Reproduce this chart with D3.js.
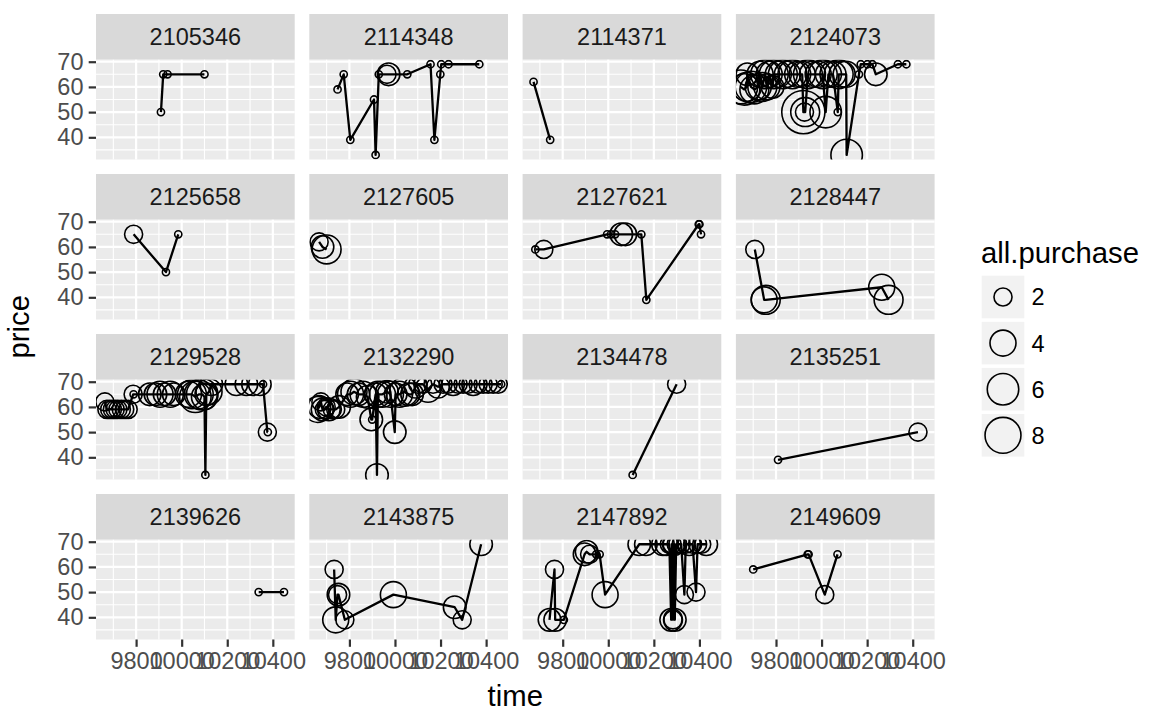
<!DOCTYPE html>
<html>
<head>
<meta charset="utf-8">
<script src="https://cdn.jsdelivr.net/npm/d3@7"></script>
<style>
  html, body { margin: 0; padding: 0; background: #fff; }
  svg { display: block; font-family: "Liberation Sans", Arial, Helvetica, sans-serif; }
</style>
</head>
<body>
<svg id="chart" width="1168" height="721"></svg>
<script>
// ---------------- DATA: [time, price, all.purchase] ----------------
const customers = ["2105346","2114348","2114371","2124073","2125658","2127605","2127621","2128447",
                   "2129528","2132290","2134478","2135251","2139626","2143875","2147892","2149609"];

const c2105346 = [[9909,50,1],[9919,65,1],[9938,65,1],[10100,65,1]];
const c2114348 = [[9748,59,1],[9775,65,1],[9804,39,1],[9908,55,1],[9915,33,1],[9929,65,1],[9965,65,2],[9972,65,3],
                  [10054,65,1],[10156,69,1],[10173,39,1],[10199,65,1],[10203,69,1],[10235,69,1],[10370,69,1]];
const c2114371 = [[9672,62,1],[9745,39,1]];
const c2124073 = [[9645,60,7],[9660,59,6],[9672,60,5],[9674,65,3],[9690,60,6],[9705,59,5],[9722,60,4],[9730,65,4],
                  [9740,60,5],[9752,65,5],[9760,60,4],[9770,65,4],[9785,60,3],[9790,65,5],[9810,65,4],[9830,65,5],
                  [9850,65,4],[9872,65,5],[9895,65,4],[9915,65,4],[9920,50,12],[9925,50,2],[9928,50,5],[9940,65,5],
                  [9960,65,4],[9985,65,4],[10005,65,5],[10018,50,6],[10030,65,4],[10050,65,4],[10071,50,1],[10075,65,5],
                  [10090,65,4],[10108,65,4],[10110,33,6],[10164,65,1],[10172,69,1],[10201,69,1],[10223,69,1],
                  [10238,65,3],[10335,69,1],[10372,69,1]];
const c2125658 = [[9789,65,2],[9931,50,1],[9985,65,1]];
const c2127605 = [[9667,62,2],[9682,60,3],[9700,59,5]];
const c2127621 = [[9680,59,1],[9717,59,2],[9995,65,1],[10012,65,1],[10030,65,1],[10057,65,3],[10075,65,3],
                  [10145,65,1],[10167,39,1],[10397,69,1],[10400,69,1],[10407,65,1]];
const c2128447 = [[9707,59,2],[9748,39,4],[9755,39,5],[10264,44,4],[10294,39,5]];
const c2129528 = [[9663,62,2],[9672,59,2],[9684,59,2],[9696,59,2],[9708,59,2],[9720,59,2],[9735,59,2],[9750,59,2],
                  [9765,59,2],[9787,65,2],[9789,65,1],[9860,65,3],[9885,65,3],[9905,65,4],[9925,65,3],[9950,65,4],
                  [9965,65,3],[10030,65,4],[10045,65,5],[10060,64,6],[10075,65,5],[10090,65,6],[10100,64,4],
                  [10104,33,1],[10108,65,3],[10120,66,4],[10130,69,3],[10240,69,3],[10284,69,3],[10313,69,3],
                  [10343,69,3],[10357,69,1],[10376,50,2],[10378,50,1]];
const c2132290 = [[9660,59,4],[9668,60,3],[9675,62,2],[9682,59,3],[9690,59,2],[9698,60,2],[9710,59,3],[9725,59,2],
                  [9740,59,2],[9755,60,3],[9790,65,3],[9805,65,4],[9820,66,4],[9840,65,3],[9860,65,4],[9880,64,3],
                  [9896,55,3],[9900,55,1],[9915,65,3],[9921,33,3],[9925,65,4],[9945,65,4],[9965,66,3],[9980,65,4],
                  [9999,50,3],[10003,65,3],[10020,65,4],[10040,66,5],[10060,65,3],[10075,65,3],[10090,68,3],
                  [10100,69,2],[10122,69,2],[10145,67,4],[10167,69,2],[10189,68,3],[10211,69,2],[10233,69,2],
                  [10255,69,3],[10277,69,2],[10299,69,2],[10321,69,2],[10343,69,3],[10365,69,2],[10387,69,2],
                  [10409,69,2],[10431,69,2],[10453,69,2],[10466,69,1]];
const c2134478 = [[10107,33,1],[10300,69,2]];
const c2135251 = [[9809,39,1],[10423,50,2]];
const c2139626 = [[10338,50,1],[10449,50,1]];
const c2143875 = [[9733,59,2],[9740,39,4],[9748,49,2],[9752,49,3],[9780,39,2],[9993,49,4],[10262,44,3],
                  [10295,39,2],[10378,69,3]];
const c2147892 = [[9742,39,3],[9764,59,2],[9767,39,3],[9805,39,1],[9896,65,3],[9905,66,3],[9918,65,2],[9947,65,1],
                  [9962,65,1],[9986,49,4],[10136,69,3],[10165,69,3],[10240,69,3],[10255,69,3],[10268,69,2],
                  [10276,39,3],[10280,69,2],[10284,39,2],[10288,69,3],[10292,39,3],[10298,69,2],[10305,69,2],
                  [10320,69,2],[10334,49,2],[10340,69,2],[10355,69,3],[10370,69,2],[10385,50,2],[10392,69,2],
                  [10410,69,2],[10430,69,3]];
const c2149609 = [[9700,59,1],[9939,65,1],[9943,65,1],[10014,49,2],[10070,65,1]];

const panelData = [c2105346,c2114348,c2114371,c2124073,c2125658,c2127605,c2127621,c2128447,
                   c2129528,c2132290,c2134478,c2135251,c2139626,c2143875,c2147892,c2149609];

const xTicks = [9800, 10000, 10200, 10400];
const xMinor = [9700, 9900, 10100, 10300];
const yTicks = [40, 50, 60, 70];
const yMinor = [35, 45, 55, 65];
const legendBreaks = [2, 4, 6, 8];

// ---------------- LAYOUT ----------------
const colLeft = [96, 309.3, 522.6, 735.9];
const rowTop = [59.7, 219.7, 379.7, 539.7];
const PW = 198.7, PH = 99.8, SH = 45.7;
const FS_SMALL = 23.5, FS_TITLE = 29.3;

const svg = d3.select("#chart");

const x = d3.scaleLinear().domain([9624, 10496]).range([0, PW]);
const y = d3.scaleLinear().domain([31.2, 70.8]).range([PH, 0]);
const sizeT = d3.scaleLinear().domain([1, 12]).range([0, 1]);
const rLin = d3.scaleLinear().domain([0, 1]).range([3.6, 21.6]);
const r = v => rLin(Math.sqrt(sizeT(v)));

const line = d3.line().x(d => x(d[0])).y(d => y(d[1]));

const defs = svg.append("defs");

customers.forEach((id, i) => {
  const col = i % 4, row = Math.floor(i / 4);
  const L = colLeft[col], T = rowTop[row];
  const g = svg.append("g").attr("transform", `translate(${L},${T})`);

  // strip
  g.append("rect").attr("x", 0).attr("y", -SH).attr("width", PW).attr("height", SH).attr("fill", "#D9D9D9");
  g.append("text").attr("x", PW / 2).attr("y", -SH / 2).attr("dy", "0.36em")
    .attr("text-anchor", "middle").attr("font-size", FS_SMALL).attr("fill", "#1A1A1A").text(id);

  // panel background
  g.append("rect").attr("width", PW).attr("height", PH).attr("fill", "#EBEBEB");

  // minor grid
  g.selectAll(".mx").data(xMinor).enter().append("line")
    .attr("x1", d => x(d)).attr("x2", d => x(d)).attr("y1", 0).attr("y2", PH)
    .attr("stroke", "#fff").attr("stroke-width", 1.1);
  g.selectAll(".my").data(yMinor).enter().append("line")
    .attr("y1", d => y(d)).attr("y2", d => y(d)).attr("x1", 0).attr("x2", PW)
    .attr("stroke", "#fff").attr("stroke-width", 1.1);
  // major grid
  g.selectAll(".Mx").data(xTicks).enter().append("line")
    .attr("x1", d => x(d)).attr("x2", d => x(d)).attr("y1", 0).attr("y2", PH)
    .attr("stroke", "#fff").attr("stroke-width", 2.2);
  g.selectAll(".My").data(yTicks).enter().append("line")
    .attr("y1", d => y(d)).attr("y2", d => y(d)).attr("x1", 0).attr("x2", PW)
    .attr("stroke", "#fff").attr("stroke-width", 2.2);

  // clip
  defs.append("clipPath").attr("id", "clip" + i)
    .append("rect").attr("width", PW).attr("height", PH);
  const cg = g.append("g").attr("clip-path", `url(#clip${i})`);

  const data = panelData[i].slice().sort((a, b) => a[0] - b[0]);
  cg.append("path").datum(data).attr("d", line)
    .attr("fill", "none").attr("stroke", "#000").attr("stroke-width", 2.3)
    .attr("stroke-linejoin", "round");
  cg.selectAll("circle").data(data).enter().append("circle")
    .attr("cx", d => x(d[0])).attr("cy", d => y(d[1])).attr("r", d => r(d[2]))
    .attr("fill", "none").attr("stroke", "#000").attr("stroke-width", 1.6);

  // y axis on first column
  if (col === 0) {
    const ay = g.append("g").call(d3.axisLeft(y).tickValues(yTicks).tickSize(7.3).tickPadding(5.2));
    ay.select(".domain").remove();
    ay.selectAll("line").attr("stroke", "#333333").attr("stroke-width", 2.2);
    ay.selectAll("text").attr("font-size", FS_SMALL).attr("fill", "#4D4D4D")
      .attr("font-family", "Liberation Sans, Arial, sans-serif");
  }
  // x axis on bottom row
  if (row === 3) {
    const ax = g.append("g").attr("transform", `translate(0,${PH})`)
      .call(d3.axisBottom(x).tickValues(xTicks).tickFormat(d3.format("d")).tickSize(7.3).tickPadding(5.2));
    ax.select(".domain").remove();
    ax.selectAll("line").attr("stroke", "#333333").attr("stroke-width", 2.2);
    ax.selectAll("text").attr("font-size", FS_SMALL).attr("fill", "#4D4D4D")
      .attr("font-family", "Liberation Sans, Arial, sans-serif");
  }
});

// axis titles
const panelsCenterX = (colLeft[0] + colLeft[3] + PW) / 2;
const panelsCenterY = (rowTop[0] - SH + rowTop[3] + PH) / 2;
svg.append("text").attr("x", panelsCenterX).attr("y", 706).attr("text-anchor", "middle")
  .attr("font-size", FS_TITLE).attr("fill", "#000").text("time");
svg.append("text").attr("transform", `translate(29,${panelsCenterY}) rotate(-90)`)
  .attr("text-anchor", "middle").attr("font-size", FS_TITLE).attr("fill", "#000").text("price");

// legend
const lg = svg.append("g").attr("transform", "translate(981,0)");
lg.append("text").attr("x", 0).attr("y", 263).attr("font-size", FS_TITLE).attr("fill", "#000").text("all.purchase");
const KEY = 42.6, PITCH = 46.1, KEY_TOP = 275.7;
legendBreaks.forEach((b, i) => {
  const ky = KEY_TOP + i * PITCH;
  lg.append("rect").attr("x", 0.7).attr("y", ky).attr("width", KEY).attr("height", KEY).attr("fill", "#F2F2F2");
  lg.append("circle").attr("cx", 0.7 + KEY / 2).attr("cy", ky + KEY / 2).attr("r", r(b))
    .attr("fill", "none").attr("stroke", "#000").attr("stroke-width", 1.6);
  lg.append("text").attr("x", 0.7 + KEY + 7.3).attr("y", ky + KEY / 2).attr("dy", "0.36em")
    .attr("font-size", FS_SMALL).attr("fill", "#000").text(b);
});
</script>
</body>
</html>
